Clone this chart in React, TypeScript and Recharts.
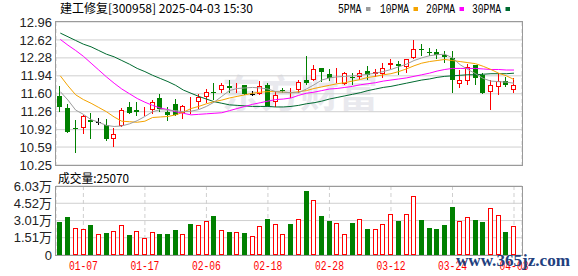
import React from 'react';
import { ComposedChart, Bar, Line, XAxis, YAxis, CartesianGrid } from 'recharts';

const dates = [
  '01-02','01-03','01-06','01-07','01-08','01-09','01-10','01-13','01-14','01-15',
  '01-16','01-17','01-20','01-21','01-22','01-23','01-24','01-27','02-05','02-06',
  '02-07','02-10','02-11','02-12','02-13','02-14','02-17','02-18','02-19','02-20',
  '02-21','02-24','02-25','02-26','02-27','02-28','03-03','03-04','03-05','03-06',
  '03-07','03-10','03-11','03-12','03-13','03-14','03-17','03-18','03-19','03-20',
  '03-21','03-24','03-25','03-26','03-27','03-28','03-31','04-01','04-02','04-03',
];

const opens = [
  11.56, 11.33, 10.95, 10.96, 11.10, 11.06, 11.00, 10.74, 10.98, 11.34,
  11.30, 11.25, 11.29, 11.52, 11.25, 11.41, 11.23, 11.29, 11.44, 11.53,
  11.64, 11.67, 11.74, 11.70, 11.77, 11.60, 11.60, 11.76, 11.44, 11.67,
  11.60, 11.68, 11.86, 11.87, 12.08, 11.98, 11.85, 11.78, 11.92, 11.91,
  12.04, 11.98, 11.98, 12.14, 12.16, 12.11, 12.27, 12.45, 12.39, 12.39,
  12.34, 12.27, 11.78, 11.85, 12.15, 11.96, 11.63, 11.72, 11.84, 11.68,
];
const highs = [
  11.75, 11.41, 11.10, 11.20, 11.23, 11.15, 11.12, 10.96, 11.33, 11.45,
  11.45, 11.34, 11.49, 11.60, 11.34, 11.50, 11.39, 11.53, 11.60, 11.69,
  11.81, 11.81, 11.86, 11.80, 11.77, 11.65, 11.84, 11.81, 11.66, 11.70,
  11.70, 11.87, 12.32, 12.14, 12.09, 12.06, 12.08, 12.01, 12.00, 12.05,
  12.13, 12.06, 12.18, 12.26, 12.23, 12.26, 12.62, 12.54, 12.46, 12.45,
  12.41, 12.41, 12.05, 12.16, 12.15, 11.99, 11.87, 11.99, 11.92, 11.89,
];
const lows = [
  11.25, 10.86, 10.48, 10.84, 10.75, 11.01, 10.71, 10.60, 10.97, 11.22,
  11.17, 11.17, 11.22, 11.26, 11.08, 11.17, 11.13, 11.22, 11.32, 11.42,
  11.48, 11.62, 11.62, 11.61, 11.57, 11.55, 11.57, 11.36, 11.34, 11.61,
  11.52, 11.62, 11.77, 11.84, 11.82, 11.85, 11.80, 11.77, 11.76, 11.86,
  11.87, 11.92, 11.89, 12.06, 11.96, 12.00, 12.26, 12.32, 12.32, 12.25,
  12.19, 11.62, 11.70, 11.77, 11.77, 11.60, 11.30, 11.58, 11.72, 11.62,
];
const closes = [
  11.34, 10.88, 10.94, 11.18, 11.07, 11.06, 10.74, 10.83, 11.30, 11.24,
  11.26, 11.28, 11.44, 11.32, 11.20, 11.19, 11.36, 11.31, 11.53, 11.63,
  11.62, 11.76, 11.71, 11.72, 11.60, 11.60, 11.75, 11.37, 11.58, 11.65,
  11.62, 11.82, 11.81, 12.06, 12.01, 11.89, 11.87, 11.99, 11.91, 11.99,
  11.95, 12.01, 12.08, 12.18, 12.13, 12.25, 12.44, 12.42, 12.37, 12.34,
  12.30, 11.87, 11.86, 12.11, 11.89, 11.62, 11.76, 11.84, 11.77, 11.76,
];
// volume in 万 (10k) shares
const volumes = [
  2.91, 3.32, 2.33, 2.24, 2.62, 1.84, 1.95, 2.07, 2.59, 1.75,
  2.07, 1.46, 1.98, 1.84, 1.84, 2.18, 1.84, 2.71, 2.62, 2.94,
  3.41, 2.16, 2.01, 2.01, 1.95, 1.66, 2.53, 3.15, 2.71, 1.84,
  2.71, 3.12, 5.59, 4.78, 3.41, 2.97, 2.77, 1.81, 2.80, 3.12,
  2.27, 2.24, 2.68, 3.55, 2.97, 3.55, 5.13, 3.06, 2.36, 2.27,
  2.62, 4.19, 2.94, 3.29, 3.06, 2.88, 4.08, 3.47, 2.01, 2.507,
];
// 1 = red (hollow) volume bar, 0 = green
const volUp = [
  0, 0, 1, 1, 0, 1, 0, 1, 1, 0,
  1, 1, 1, 0, 0, 0, 1, 0, 1, 1,
  0, 1, 0, 1, 0, 1, 1, 0, 1, 1,
  0, 1, 0, 1, 0, 0, 1, 1, 0, 1,
  0, 1, 1, 1, 0, 1, 1, 0, 0, 0,
  0, 0, 1, 1, 0, 0, 1, 1, 0, 1,
];
const ma5 = [
  11.64, 11.48, 11.29, 11.21, 11.11, 11.06, 11.00, 10.98, 10.99, 11.03,
  11.09, 11.17, 11.26, 11.30, 11.29, 11.28, 11.26, 11.27, 11.30, 11.36,
  11.44, 11.55, 11.66, 11.70, 11.71, 11.72, 11.71, 11.69, 11.64, 11.63,
  11.62, 11.62, 11.69, 11.77, 11.86, 11.90, 11.92, 11.93, 11.94, 11.95,
  11.97, 11.99, 12.02, 12.06, 12.11, 12.16, 12.23, 12.28, 12.32, 12.34,
  12.35, 12.28, 12.15, 12.06, 11.98, 11.89, 11.84, 11.83, 11.82, 11.80,
];
const ma10 = [
  11.94, 11.75, 11.58, 11.49, 11.42, 11.34, 11.26, 11.16, 11.08, 11.07,
  11.06, 11.08, 11.15, 11.16, 11.17, 11.20, 11.25, 11.32, 11.36, 11.41,
  11.45, 11.48, 11.52, 11.55, 11.58, 11.61, 11.63, 11.64, 11.64, 11.63,
  11.62, 11.64, 11.66, 11.70, 11.73, 11.76, 11.79, 11.81, 11.84, 11.87,
  11.91, 11.93, 11.96, 11.98, 12.02, 12.07, 12.13, 12.18, 12.21, 12.23,
  12.25, 12.23, 12.21, 12.19, 12.17, 12.12, 12.06, 11.99, 11.94, 11.87,
];
const ma20 = [
  12.63, 12.52, 12.42, 12.31, 12.18, 12.05, 11.92, 11.80, 11.69, 11.60,
  11.51, 11.44, 11.38, 11.33, 11.30, 11.26, 11.23, 11.20, 11.21, 11.22,
  11.23, 11.24, 11.28, 11.32, 11.36, 11.40, 11.43, 11.46, 11.49, 11.50,
  11.52, 11.57, 11.61, 11.63, 11.66, 11.69, 11.70, 11.72, 11.74, 11.77,
  11.79, 11.81, 11.84, 11.86, 11.88, 11.90, 11.93, 11.96, 11.99, 12.03,
  12.06, 12.08, 12.08, 12.08, 12.08, 12.07, 12.06, 12.06, 12.05, 12.05,
];
const ma30 = [
  12.75, 12.68, 12.61, 12.54, 12.49, 12.42, 12.35, 12.30, 12.23, 12.16,
  12.08, 12.02, 11.95, 11.89, 11.83, 11.76, 11.67, 11.61, 11.55, 11.50,
  11.45, 11.42, 11.39, 11.38, 11.37, 11.36, 11.36, 11.36, 11.35, 11.35,
  11.36, 11.38, 11.41, 11.43, 11.46, 11.50, 11.53, 11.56, 11.59, 11.62,
  11.66, 11.69, 11.72, 11.74, 11.77, 11.80, 11.83, 11.86, 11.88, 11.91,
  11.93, 11.94, 11.95, 11.96, 11.96, 11.97, 11.98, 11.98, 11.98, 11.99,
];

const priceTickLabels = ['10.25', '10.59', '10.92', '11.26', '11.60', '11.94', '12.28', '12.62', '12.96'];
const volTicks = [0, 1.51, 3.01, 4.52, 6.03];
const volTickLabels = ['0', '1.51万', '3.01万', '4.52万', '6.03万'];
const xTicks = [3, 11, 19, 27, 35, 43, 51, 59];

const title = '建工修复[300958] 2025-04-03 15:30';
const volTitle = '成交量:25070';
const legendItems = [
  { label: '5PMA', color: '#9d9d9d' },
  { label: '10PMA', color: '#f4a300' },
  { label: '20PMA', color: '#ff00ff' },
  { label: '30PMA', color: '#006a30' },
];

const RED = '#ff0000';
const GREEN = '#008000';
const GRID = '#cfcfcf';
const BORDER = '#9a9a9a';
const FONT = '"Liberation Sans", Arial, "Noto Sans CJK SC", sans-serif';

const data = dates.map((d, i) => ({
  idx: i,
  date: d,
  open: opens[i],
  high: highs[i],
  low: lows[i],
  close: closes[i],
  range: [lows[i], highs[i]],
  vol: volumes[i],
  up: volUp[i] === 1,
  ma5: ma5[i],
  ma10: ma10[i],
  ma20: ma20[i],
  ma30: ma30[i],
}));

const priceTicks = priceTickLabels.map(Number);
const xDomain: [number, number] = [-0.56, 60.04];

function CandleShape(props: any) {
  const { x, y, width, height, payload } = props;
  if (x == null || y == null || !payload) return null;
  const top = Math.min(y, y + height);
  const h = Math.abs(height);
  const { open, close, high, low } = payload;
  const k = high > low ? h / (high - low) : 0;
  const py = (v: number) => top + (high - v) * k;
  const left = Math.round(x);
  const w = Math.max(Math.round(width), 3);
  const cx = left + Math.floor(w / 2) + 0.5;
  const color = close > open ? RED : close < open ? GREEN : '#000';
  const bTop = Math.round(py(Math.max(open, close)));
  const bBot = Math.round(py(Math.min(open, close)));
  const wTop = Math.round(py(high));
  const wBot = Math.round(py(low));
  let body;
  if (close > open) {
    body = (
      <rect x={left + 0.5} y={bTop + 0.5} width={w - 1} height={Math.max(bBot - bTop - 1, 0)}
        fill="#fff" stroke={color} strokeWidth={1} />
    );
  } else if (close < open) {
    body = <rect x={left} y={bTop} width={w} height={Math.max(bBot - bTop, 1)} fill={color} />;
  } else {
    body = <line x1={left} x2={left + w} y1={bTop + 0.5} y2={bTop + 0.5} stroke={color} strokeWidth={1} />;
  }
  return (
    <g>
      <line x1={cx} x2={cx} y1={wTop} y2={wBot} stroke={color} strokeWidth={1} />
      {body}
    </g>
  );
}

function VolumeShape(props: any) {
  const { x, y, width, height, payload } = props;
  if (x == null || y == null || !payload) return null;
  const top = Math.min(y, y + height);
  const h = Math.abs(height);
  const left = Math.round(x);
  const w = Math.max(Math.round(width), 3);
  const t = Math.round(top);
  const b = Math.round(top + h);
  if (payload.up) {
    return (
      <rect x={left + 0.5} y={t + 0.5} width={w - 1} height={Math.max(b - t - 1, 0)}
        fill="#fff" stroke={RED} strokeWidth={1} />
    );
  }
  return <rect x={left} y={t} width={w} height={b - t} fill={GREEN} />;
}

function DateTick(props: any) {
  const { x, y, payload } = props;
  const label = dates[payload.value];
  if (!label) return null;
  return (
    <text x={x} y={y + 15} textAnchor="middle" fill={RED} fontSize={12}
      fontFamily='"Liberation Mono", monospace' textLength={29} lengthAdjust="spacingAndGlyphs">
      {label}
    </text>
  );
}

const yTickStyle = { fill: '#222', fontSize: 13, fontFamily: FONT };

export default function App() {
  return (
    <div style={{ position: 'fixed', left: 0, top: 0, width: 578, height: 276, background: '#fff', overflow: 'hidden' }}>
      {/* faint background watermark */}
      <svg width={578} height={276} style={{ position: 'absolute', left: 0, top: 0 }}>
        <text x={222} y={107} fontSize={38} fontWeight="bold" fill="#e9e9ee"
          fontFamily='"Noto Sans CJK SC", sans-serif' textLength={156} lengthAdjust="spacingAndGlyphs">
          东方财富
        </text>
      </svg>

      <div style={{ position: 'absolute', left: 0, top: 0 }}>
        <ComposedChart width={578} height={182} data={data} margin={{ top: 22, right: 56, bottom: 17, left: 0 }}>
          <CartesianGrid vertical={false} stroke={GRID} />
          <CartesianGrid horizontal={false} stroke={GRID} strokeDasharray="4 3" />
          <XAxis dataKey="idx" type="number" domain={xDomain} ticks={xTicks} interval={0}
            height={0} tick={false} axisLine={false} tickLine={false} />
          <YAxis type="number" domain={[10.25, 12.96]} ticks={priceTicks} interval={0} width={56}
            axisLine={false} tickLine={false} tickSize={0} tickMargin={4}
            tickFormatter={(v: number) => v.toFixed(2)} tick={yTickStyle} />
          <Line dataKey="ma30" stroke="#006a30" strokeWidth={1} dot={false} activeDot={false} isAnimationActive={false} />
          <Line dataKey="ma20" stroke="#ff00ff" strokeWidth={1} dot={false} activeDot={false} isAnimationActive={false} />
          <Line dataKey="ma10" stroke="#f4a300" strokeWidth={1} dot={false} activeDot={false} isAnimationActive={false} />
          <Line dataKey="ma5" stroke="#9d9d9d" strokeWidth={1} dot={false} activeDot={false} isAnimationActive={false} />
          <Bar dataKey="range" barSize={5} shape={CandleShape} isAnimationActive={false} />
        </ComposedChart>
      </div>

      <div style={{ position: 'absolute', left: 0, top: 170 }}>
        <ComposedChart width={578} height={106} data={data} margin={{ top: 16, right: 56, bottom: 0, left: 0 }}>
          <CartesianGrid vertical={false} stroke={GRID} />
          <CartesianGrid horizontal={false} stroke={GRID} strokeDasharray="4 3" />
          <XAxis dataKey="idx" type="number" domain={xDomain} ticks={xTicks} interval={0}
            height={21} axisLine={false} tickLine={false} tickSize={0} tickMargin={0} tick={<DateTick />} />
          <YAxis type="number" domain={[0, 6.03]} ticks={volTicks} interval={0} width={56}
            axisLine={false} tickLine={false} tickSize={0} tickMargin={4}
            tickFormatter={(v: number) => volTickLabels[volTicks.indexOf(v)] ?? String(v)} tick={yTickStyle} />
          <Bar dataKey="vol" barSize={5} shape={VolumeShape} isAnimationActive={false} />
        </ComposedChart>
      </div>

      {/* plot borders */}
      <div style={{ position: 'absolute', left: 55, top: 21, width: 468, height: 145, border: `1px solid ${BORDER}`, boxSizing: 'border-box', pointerEvents: 'none' }} />
      <div style={{ position: 'absolute', left: 55, top: 186, width: 468, height: 70, border: `1px solid ${BORDER}`, boxSizing: 'border-box', pointerEvents: 'none' }} />

      {/* titles, legend, site watermark */}
      <svg width={578} height={276} style={{ position: 'absolute', left: 0, top: 0, pointerEvents: 'none' }}>
        <text x={60} y={13} fontSize={12} fill="#000" fontFamily='"Noto Sans CJK SC", sans-serif'
          textLength={193} lengthAdjust="spacingAndGlyphs">{title}</text>
        {legendItems.map((it, i) => {
          const xs = [338, 380, 426, 472];
          const tl = it.label.length === 4 ? 23.5 : 29;
          const x = xs[i];
          return (
            <g key={it.label}>
              <text x={x} y={12.5} fontSize={12} fill="#000" fontFamily='"Liberation Mono", monospace'
                textLength={tl} lengthAdjust="spacingAndGlyphs">{it.label}</text>
              <rect x={x + tl + 4.5} y={7} width={4.5} height={4} fill={it.color} />
            </g>
          );
        })}
        <text x={58} y={182.5} fontSize={12} fill="#000" fontFamily='"Noto Sans CJK SC", sans-serif'
          textLength={71} lengthAdjust="spacingAndGlyphs">{volTitle}</text>
        <text x={456} y={266} fontSize={17} fontWeight="bold" fill="#22407e"
          fontFamily='"Liberation Serif", serif' textLength={114} lengthAdjust="spacingAndGlyphs">www.365jz.com</text>
      </svg>
    </div>
  );
}
